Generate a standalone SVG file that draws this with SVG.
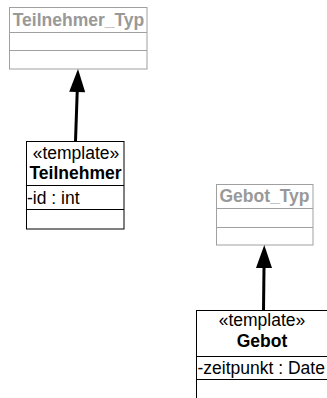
<svg xmlns="http://www.w3.org/2000/svg" width="327" height="398" viewBox="0 0 327 398">
  <defs>
    <!-- filled arrowhead for the realization links; starts at the line end -->
    <marker id="head" markerUnits="userSpaceOnUse" markerWidth="24" markerHeight="16" refX="0" refY="8" orient="auto" overflow="visible">
      <path d="M0,0 L23,8 L0,16 Z" fill="#000"/>
    </marker>
    <style>
      .box { fill: #fff; stroke: #000; stroke-width: 1; }
      .typ { fill: #fff; stroke: #a0a0a0; stroke-width: 1; }
      .sep { stroke: #000; stroke-width: 1; }
      .sepg { stroke: #a0a0a0; stroke-width: 1; }
      text { font-family: "Liberation Sans", Arial, sans-serif; font-size: 17.5px; fill: #000; }
      .name { font-weight: bold; text-anchor: middle; }
      .gname { font-weight: bold; text-anchor: middle; fill: #999; }
      .stereo { text-anchor: middle; }
      .link { stroke: #000; stroke-width: 3; fill: none; marker-end: url(#head); }
    </style>
  </defs>

  <!-- template parameter type: Teilnehmer_Typ -->
  <g id="teilnehmer_typ">
    <rect class="typ" x="9.5" y="7.5" width="137.5" height="61.5"/>
    <line class="sepg" x1="9.5" y1="32.5" x2="147" y2="32.5"/>
    <line class="sepg" x1="9.5" y1="50.5" x2="147" y2="50.5"/>
    <text class="gname" x="78.5" y="26">Teilnehmer_Typ</text>
  </g>

  <!-- template class: Teilnehmer -->
  <g id="teilnehmer">
    <rect class="box" x="26.5" y="141.5" width="97.5" height="87.5"/>
    <line class="sep" x1="26.5" y1="185.5" x2="124" y2="185.5"/>
    <line class="sep" x1="26.5" y1="209.5" x2="124" y2="209.5"/>
    <text class="stereo" x="76" y="159">«template»</text>
    <text class="name" x="75.5" y="179">Teilnehmer</text>
    <text x="27" y="204">-id : int</text>
  </g>

  <!-- template parameter type: Gebot_Typ -->
  <g id="gebot_typ">
    <rect class="typ" x="216.5" y="184.5" width="96.5" height="60.5"/>
    <line class="sepg" x1="216.5" y1="208.5" x2="313" y2="208.5"/>
    <line class="sepg" x1="216.5" y1="227.5" x2="313" y2="227.5"/>
    <text class="gname" x="264.5" y="202">Gebot_Typ</text>
  </g>

  <!-- template class: Gebot -->
  <g id="gebot">
    <rect class="box" x="196.5" y="310.5" width="131" height="89"/>
    <line class="sep" x1="196.5" y1="356.5" x2="327.5" y2="356.5"/>
    <line class="sep" x1="196.5" y1="379.5" x2="327.5" y2="379.5"/>
    <text class="stereo" x="262" y="326">«template»</text>
    <text class="name" x="262" y="347">Gebot</text>
    <text x="197.5" y="374">-zeitpunkt : Date</text>
  </g>

  <!-- realization links from each class to its parameter type -->
  <g id="connectors">
    <line class="link" x1="75.5" y1="141" x2="77.2" y2="92"/>
    <line class="link" x1="263.5" y1="310" x2="264" y2="268"/>
  </g>
</svg>
